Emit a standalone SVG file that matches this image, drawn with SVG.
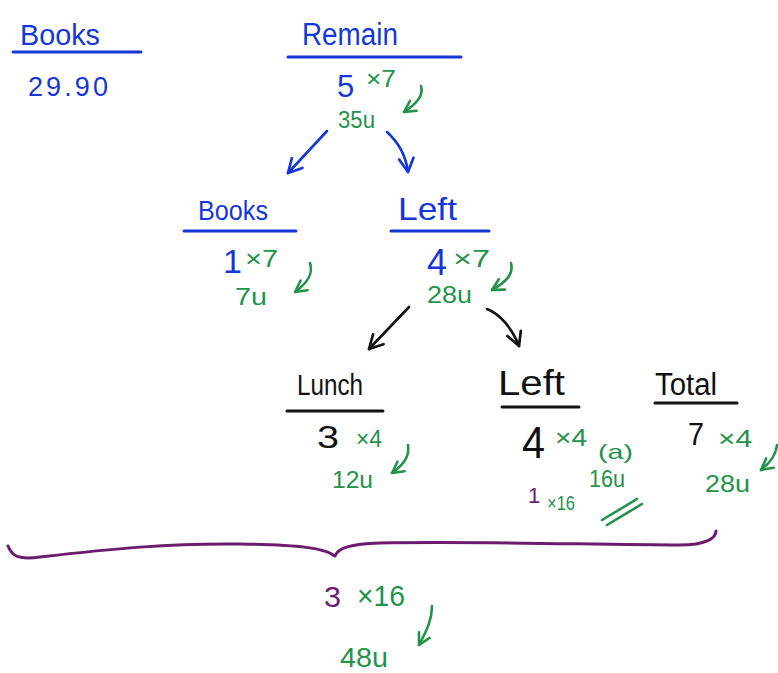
<svg xmlns="http://www.w3.org/2000/svg" width="778" height="673" viewBox="0 0 778 673">
  <style>
    text { font-family: "Liberation Sans", "DejaVu Sans", sans-serif; }
    .blue { fill: #1537d6; }
    .black { fill: #111111; }
    .green { fill: #23924a; }
    .purple { fill: #6b1c6e; }
    .hd { font-size: 31px; }
    .sm { font-size: 23px; }
    .val { font-size: 23px; }
    .rule { stroke-width: 3; stroke-linecap: round; fill: none; }
    .ink { fill: none; stroke-width: 2.6; stroke-linecap: round; stroke-linejoin: round; }
  </style>
  <defs>
    <marker id="hB" viewBox="0 0 10 10" refX="8.5" refY="5" markerWidth="18" markerHeight="18" markerUnits="userSpaceOnUse" orient="auto">
      <path d="M1,1 L8.5,5 L1,9" fill="none" stroke="#1537d6" stroke-width="1.5" stroke-linecap="round" stroke-linejoin="round"/>
    </marker>
    <marker id="hK" viewBox="0 0 10 10" refX="8.5" refY="5" markerWidth="18" markerHeight="18" markerUnits="userSpaceOnUse" orient="auto">
      <path d="M1,1 L8.5,5 L1,9" fill="none" stroke="#111111" stroke-width="1.5" stroke-linecap="round" stroke-linejoin="round"/>
    </marker>
    <marker id="hG" viewBox="0 0 10 10" refX="8.5" refY="5" markerWidth="15" markerHeight="15" markerUnits="userSpaceOnUse" orient="auto">
      <path d="M1,1 L8.5,5 L1,9" fill="none" stroke="#23924a" stroke-width="1.7" stroke-linecap="round" stroke-linejoin="round"/>
    </marker>
  </defs>

  <rect width="778" height="673" fill="#ffffff"/>

  <!-- cost of books -->
  <g id="books-cost">
    <text class="blue" font-size="29" x="20" y="45" textLength="80" lengthAdjust="spacingAndGlyphs">Books</text>
    <line class="rule" x1="13" y1="52" x2="141" y2="52" stroke="#1537d6"/>
    <text class="blue" font-size="27" x="28" y="96" textLength="80" lengthAdjust="spacing">29.90</text>
  </g>

  <!-- remaining -->
  <g id="remain">
    <text class="blue hd" x="302" y="45" textLength="96" lengthAdjust="spacingAndGlyphs">Remain</text>
    <line class="rule" x1="288" y1="57" x2="461" y2="57" stroke="#1537d6"/>
    <text class="blue" font-size="31" x="337" y="97">5</text>
    <text class="green sm" x="366" y="87" textLength="30" lengthAdjust="spacingAndGlyphs">×7</text>
    <text class="green val" x="338" y="128" textLength="37" lengthAdjust="spacingAndGlyphs">35u</text>
  </g>

  <!-- books branch -->
  <g id="books">
    <text class="blue" font-size="27" x="198" y="220" textLength="70" lengthAdjust="spacingAndGlyphs">Books</text>
    <line class="rule" x1="184" y1="231" x2="296" y2="231" stroke="#1537d6"/>
    <text class="blue" font-size="34" x="223" y="273">1</text>
    <text class="green sm" x="245" y="267" textLength="33" lengthAdjust="spacingAndGlyphs">×7</text>
    <text class="green val" x="235" y="305" textLength="32" lengthAdjust="spacingAndGlyphs">7u</text>
  </g>

  <!-- left after books -->
  <g id="left-1">
    <text class="blue" font-size="32" x="398" y="220" textLength="59" lengthAdjust="spacingAndGlyphs">Left</text>
    <line class="rule" x1="391" y1="231" x2="489" y2="231" stroke="#1537d6"/>
    <text class="blue" font-size="36" x="427" y="275" textLength="20" lengthAdjust="spacingAndGlyphs">4</text>
    <text class="green sm" x="453" y="267" textLength="37" lengthAdjust="spacingAndGlyphs">×7</text>
    <text class="green val" x="427" y="303" textLength="45" lengthAdjust="spacingAndGlyphs">28u</text>
  </g>

  <!-- lunch -->
  <g id="lunch">
    <text class="black" font-size="30" x="297" y="395" textLength="66" lengthAdjust="spacingAndGlyphs">Lunch</text>
    <line class="rule" x1="287" y1="411" x2="383" y2="411" stroke="#111111"/>
    <text class="black" font-size="32" x="317" y="448" textLength="22" lengthAdjust="spacingAndGlyphs">3</text>
    <text class="green sm" x="356" y="447" textLength="26" lengthAdjust="spacingAndGlyphs">×4</text>
    <text class="green val" x="332" y="488" textLength="41" lengthAdjust="spacingAndGlyphs">12u</text>
  </g>

  <!-- left after lunch -->
  <g id="left-2">
    <text class="black" font-size="35" x="498" y="395" textLength="67" lengthAdjust="spacingAndGlyphs">Left</text>
    <line class="rule" x1="502" y1="407" x2="579" y2="407" stroke="#111111"/>
    <text class="black" font-size="44" x="522" y="458" textLength="23" lengthAdjust="spacingAndGlyphs">4</text>
    <text class="green sm" x="555" y="446" textLength="32" lengthAdjust="spacingAndGlyphs">×4</text>
    <text class="green" font-size="21" x="598" y="459" textLength="35" lengthAdjust="spacingAndGlyphs">(a)</text>
    <text class="green val" x="589" y="487" textLength="36" lengthAdjust="spacingAndGlyphs">16u</text>
    <text class="purple" font-size="22" x="528" y="503">1</text>
    <text class="green" font-size="21" x="547" y="510" textLength="28" lengthAdjust="spacingAndGlyphs">×16</text>
    <path class="ink" d="M602,520 L637,499 M607,525 L642,504" stroke="#23924a"/>
  </g>

  <!-- total -->
  <g id="total">
    <text class="black" font-size="31" x="655" y="395" textLength="62" lengthAdjust="spacingAndGlyphs">Total</text>
    <line class="rule" x1="655" y1="403" x2="737" y2="403" stroke="#111111"/>
    <text class="black" font-size="32" x="688" y="445" textLength="16" lengthAdjust="spacingAndGlyphs">7</text>
    <text class="green sm" x="718" y="447" textLength="34" lengthAdjust="spacingAndGlyphs">×4</text>
    <text class="green val" x="705" y="492" textLength="45" lengthAdjust="spacingAndGlyphs">28u</text>
  </g>

  <!-- grouping brace -->
  <g id="brace">
    <path d="M8,546 C12,556 18,560 40,557 C110,549 170,543 240,544 C300,545 325,548 335,556 C338,548 350,544 380,543 C480,541 600,545 680,545 C706,545 716,538 716,531" fill="none" stroke="#6b1c6e" stroke-width="3" stroke-linecap="round" stroke-linejoin="round"/>
  </g>

  <!-- grouped result -->
  <g id="result">
    <text class="purple" font-size="30" x="324" y="607" textLength="17" lengthAdjust="spacingAndGlyphs">3</text>
    <text class="green" font-size="29" x="357" y="606" textLength="48" lengthAdjust="spacingAndGlyphs">×16</text>
    <text class="green" font-size="27" x="340" y="667" textLength="48" lengthAdjust="spacingAndGlyphs">48u</text>
  </g>

  <g id="connectors">
    <!-- tree branches -->
    <path class="ink" d="M327,131 L288,173" stroke="#1537d6" marker-end="url(#hB)"/>
    <path class="ink" d="M387,132 C398,142 406,156 408,172" stroke="#1537d6" marker-end="url(#hB)"/>
    <path class="ink" d="M409,307 L369,349" stroke="#111111" marker-end="url(#hK)"/>
    <path class="ink" d="M487,309 C500,314 512,328 519,346" stroke="#111111" marker-end="url(#hK)"/>
    <!-- multiply arrows -->
    <path class="ink" d="M421,86 C424,96 416,104 404,112" stroke="#23924a" marker-end="url(#hG)"/>
    <path class="ink" d="M310,263 C314,275 306,284 295,292" stroke="#23924a" marker-end="url(#hG)"/>
    <path class="ink" d="M511,263 C514,274 506,282 492,290" stroke="#23924a" marker-end="url(#hG)"/>
    <path class="ink" d="M408,445 C410,457 403,465 392,473" stroke="#23924a" marker-end="url(#hG)"/>
    <path class="ink" d="M777,445 C776,456 770,463 761,470" stroke="#23924a" marker-end="url(#hG)"/>
    <path class="ink" d="M432,606 C432,620 427,630 419,645" stroke="#23924a" marker-end="url(#hG)"/>
  </g>
</svg>
